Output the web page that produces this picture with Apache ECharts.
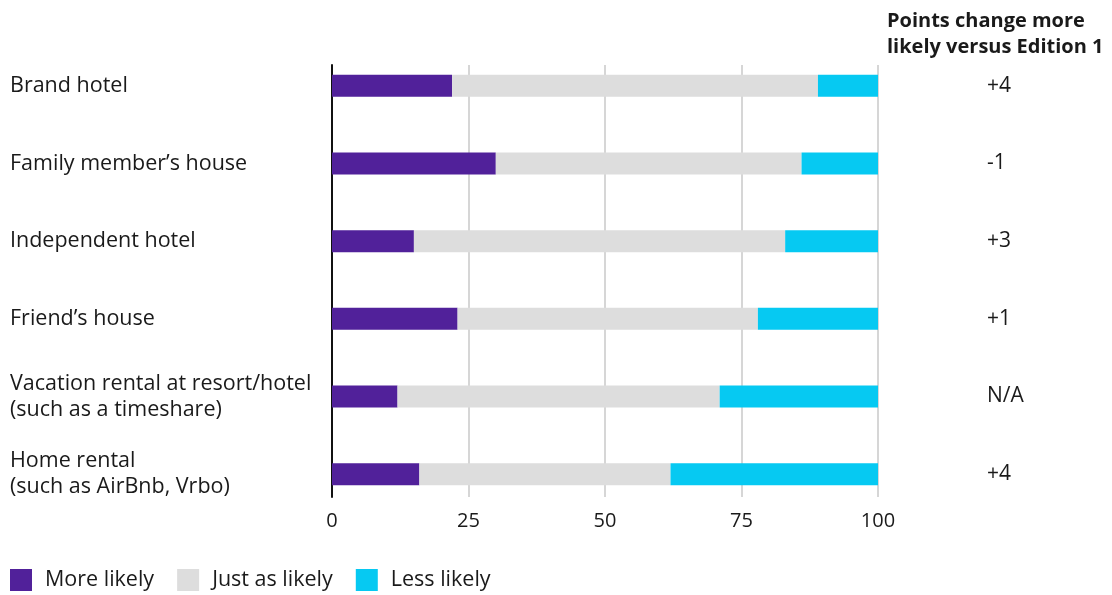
<!DOCTYPE html>
<html>
<head>
<meta charset="utf-8">
<script src="https://cdn.jsdelivr.net/npm/echarts@6/dist/echarts.min.js"></script>
<style>
  html, body { margin: 0; padding: 0; background: #fff; }
  #chart { width: 1112px; height: 595px; }
</style>
</head>
<body>
<div id="chart"></div>
<script>
// Accommodation types, top to bottom
const categories = [
  'Brand hotel',
  'Family member\u2019s house',
  'Independent hotel',
  'Friend\u2019s house',
  'Vacation rental at resort/hotel\n(such as a timeshare)',
  'Home rental\n(such as AirBnb, Vrbo)'
];
// Share of respondents (%)
const moreLikely   = [22, 30, 15, 23, 12, 16];
const justAsLikely = [67, 56, 68, 55, 59, 46];
const lessLikely   = [11, 14, 17, 22, 29, 38];
// Points change in "more likely" versus Edition 1
const pointsChange = ['+4', '-1', '+3', '+1', 'N/A', '+4'];
const xTicks = [0, 25, 50, 75, 100];

const FONT = '"Open Sans", "Noto Sans", sans-serif';
const TEXT = '#1a1a1a';

const chart = echarts.init(document.getElementById('chart'));

chart.setOption({
  animation: false,
  textStyle: { fontFamily: FONT },
  title: {
    text: 'Points change more\nlikely versus Edition 1',
    left: 882,
    top: 3,
    textStyle: { fontFamily: FONT, fontSize: 20, fontWeight: 'bold', color: TEXT, lineHeight: 26 }
  },
  legend: {
    left: 5,
    top: 564,
    icon: 'rect',
    itemWidth: 22,
    itemHeight: 22,
    itemGap: 23,
    textStyle: { fontFamily: FONT, fontSize: 21.5, color: TEXT, padding: [0, 0, 0, 8] },
    data: ['More likely', 'Just as likely', 'Less likely']
  },
  grid: [
    // axes frame: gridlines, tick labels, baseline
    { left: 332, right: 234, top: 65, height: 432 },
    // bars and category labels
    { left: 332, right: 234, top: 47, height: 466 }
  ],
  xAxis: [
    {
      gridIndex: 0, type: 'value', min: xTicks[0], max: xTicks[xTicks.length - 1], interval: 25,
      axisLine: { show: false }, axisTick: { show: false },
      axisLabel: { fontFamily: FONT, fontSize: 20, color: TEXT, margin: 14 },
      splitLine: { show: true, lineStyle: { color: '#c8c8c8', width: 1.5 } }
    },
    {
      gridIndex: 1, type: 'value', min: 0, max: 100, show: false
    }
  ],
  yAxis: [
    {
      gridIndex: 0, type: 'value', min: 0, max: 1,
      axisLine: { show: true, onZero: false, lineStyle: { color: '#111', width: 2 } },
      axisTick: { show: false }, axisLabel: { show: false }, splitLine: { show: false }
    },
    {
      gridIndex: 1, type: 'category', data: categories, inverse: true,
      axisLine: { show: false }, axisTick: { show: false },
      axisLabel: {
        fontFamily: FONT, fontSize: 21.5, color: TEXT, align: 'left',
        margin: 322, lineHeight: 26
      }
    },
    {
      gridIndex: 1, type: 'category', data: categories, inverse: true, position: 'right',
      axisLine: { show: false }, axisTick: { show: false },
      axisLabel: {
        fontFamily: FONT, fontSize: 21, color: TEXT, align: 'left', margin: 109,
        formatter: (v, i) => pointsChange[i]
      }
    }
  ],
  series: [
    { name: 'More likely', type: 'bar', stack: 'all', xAxisIndex: 1, yAxisIndex: 1,
      barWidth: 22, itemStyle: { color: '#51219a' }, data: moreLikely },
    { name: 'Just as likely', type: 'bar', stack: 'all', xAxisIndex: 1, yAxisIndex: 1,
      barWidth: 22, itemStyle: { color: '#dddddd' }, data: justAsLikely },
    { name: 'Less likely', type: 'bar', stack: 'all', xAxisIndex: 1, yAxisIndex: 1,
      barWidth: 22, itemStyle: { color: '#06c9f2' }, data: lessLikely }
  ]
});
</script>
</body>
</html>
